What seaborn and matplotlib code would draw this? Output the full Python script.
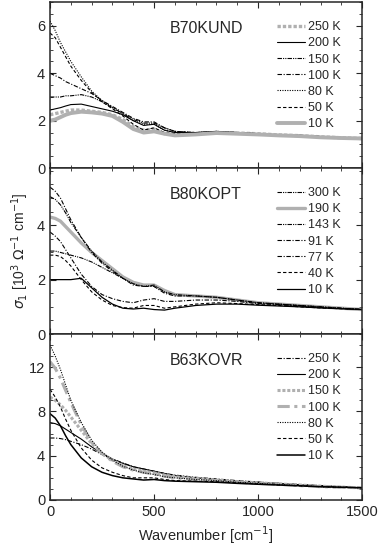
import matplotlib
matplotlib.use("Agg")
import matplotlib.pyplot as plt
from matplotlib.ticker import MultipleLocator, FixedLocator
import seaborn as sns

sns.set_style("ticks")
plt.rcParams['font.family'] = ['Liberation Sans', 'DejaVu Sans']

# wavenumber grid (cm^-1)
w = [0, 25, 50, 75, 100, 150, 200, 250, 300, 350, 400, 450, 500, 550, 600,
     700, 800, 900, 1000, 1100, 1200, 1300, 1400, 1500]

# B70KUND, sigma_1 in 10^3 Ohm^-1 cm^-1
und_labels = ['250 K', '200 K', '150 K', '100 K', '80 K', '50 K', '10 K']
und_250 = [2.25, 2.3, 2.35, 2.4, 2.45, 2.45, 2.4, 2.35, 2.25, 2.05, 1.75, 1.6, 1.65, 1.45, 1.4,
           1.45, 1.5, 1.48, 1.45, 1.4, 1.37, 1.32, 1.28, 1.25]
und_200 = [2.45, 2.5, 2.55, 2.62, 2.68, 2.7, 2.6, 2.5, 2.4, 2.25, 2.0, 1.8, 1.85, 1.6, 1.5,
           1.5, 1.55, 1.5, 1.45, 1.4, 1.38, 1.33, 1.28, 1.25]
und_150 = [3.0, 3.0, 3.0, 3.05, 3.05, 3.1, 3.0, 2.8, 2.55, 2.3, 2.05, 1.9, 1.9, 1.7, 1.55,
           1.5, 1.52, 1.5, 1.45, 1.4, 1.38, 1.33, 1.28, 1.25]
und_100 = [4.0, 3.9, 3.8, 3.65, 3.55, 3.35, 3.15, 2.85, 2.6, 2.35, 2.1, 1.95, 1.95, 1.7, 1.55,
           1.5, 1.52, 1.5, 1.45, 1.4, 1.38, 1.33, 1.28, 1.25]
und_80 = [6.2, 5.8, 5.3, 4.9, 4.5, 3.85, 3.25, 2.85, 2.55, 2.3, 2.0, 1.85, 1.85, 1.6, 1.5,
          1.5, 1.55, 1.5, 1.45, 1.4, 1.38, 1.33, 1.28, 1.25]
und_50 = [5.7, 5.5, 5.1, 4.7, 4.3, 3.7, 3.2, 2.8, 2.5, 2.2, 1.85, 1.6, 1.7, 1.5, 1.45,
          1.45, 1.5, 1.48, 1.45, 1.4, 1.38, 1.33, 1.28, 1.25]
und_10 = [2.0, 2.05, 2.15, 2.25, 2.32, 2.38, 2.35, 2.3, 2.2, 1.95, 1.65, 1.5, 1.55, 1.45, 1.38,
          1.42, 1.48, 1.45, 1.42, 1.38, 1.35, 1.3, 1.27, 1.25]

# B80KOPT
opt_labels = ['300 K', '190 K', '143 K', '91 K', '77 K', '40 K', '10 K']
opt_300 = [3.05, 3.05, 3.0, 2.95, 2.9, 2.8, 2.65, 2.45, 2.25, 2.05, 1.85, 1.8, 1.75, 1.55, 1.45,
           1.4, 1.35, 1.25, 1.15, 1.1, 1.05, 1.0, 0.95, 0.9]
opt_190 = [4.3, 4.25, 4.15, 3.95, 3.75, 3.35, 3.0, 2.7, 2.4, 2.1, 1.9, 1.8, 1.8, 1.6, 1.45,
           1.4, 1.35, 1.25, 1.15, 1.1, 1.05, 1.0, 0.95, 0.9]
opt_143 = [5.05, 4.95, 4.75, 4.45, 4.1, 3.55, 3.05, 2.65, 2.35, 2.05, 1.85, 1.75, 1.8, 1.55, 1.45,
           1.4, 1.35, 1.25, 1.15, 1.1, 1.05, 1.0, 0.95, 0.9]
opt_91 = [5.4, 5.25, 5.0, 4.6, 4.2, 3.55, 3.0, 2.6, 2.3, 2.05, 1.8, 1.75, 1.75, 1.5, 1.4,
          1.4, 1.35, 1.25, 1.15, 1.1, 1.05, 1.0, 0.95, 0.9]
opt_77 = [3.75, 3.6, 3.4, 3.1, 2.8, 2.2, 1.75, 1.45, 1.3, 1.2, 1.15, 1.25, 1.3, 1.2, 1.2,
          1.25, 1.25, 1.2, 1.12, 1.08, 1.03, 0.98, 0.94, 0.9]
opt_40 = [2.9, 2.9, 2.85, 2.7, 2.5, 2.0, 1.55, 1.25, 1.05, 0.97, 0.95, 1.05, 1.05, 0.95, 1.0,
          1.1, 1.15, 1.12, 1.08, 1.05, 1.0, 0.96, 0.93, 0.9]
opt_10 = [2.0, 2.0, 2.0, 2.0, 2.0, 2.05, 1.7, 1.35, 1.1, 0.95, 0.92, 0.95, 0.9, 0.88, 0.95,
          1.05, 1.1, 1.1, 1.06, 1.03, 1.0, 0.96, 0.93, 0.9]

# B63KOVR
ovr_labels = ['250 K', '200 K', '150 K', '100 K', '80 K', '50 K', '10 K']
ovr_250 = [5.6, 5.6, 5.55, 5.45, 5.3, 5.0, 4.6, 4.1, 3.7, 3.35, 3.0, 2.8, 2.6, 2.4, 2.25,
           2.05, 1.9, 1.75, 1.62, 1.5, 1.4, 1.3, 1.2, 1.1]
ovr_200 = [7.0, 6.9, 6.7, 6.4, 6.1, 5.5, 4.8, 4.2, 3.7, 3.3, 3.0, 2.8, 2.6, 2.4, 2.2,
           2.0, 1.85, 1.7, 1.6, 1.5, 1.38, 1.28, 1.18, 1.1]
ovr_150 = [9.3, 9.0, 8.6, 8.1, 7.5, 6.3, 5.1, 4.2, 3.6, 3.1, 2.8, 2.6, 2.45, 2.25, 2.1,
           1.95, 1.8, 1.65, 1.55, 1.45, 1.35, 1.25, 1.15, 1.1]
ovr_100 = [12.5, 11.9, 11.0, 9.9, 8.8, 6.8, 5.2, 4.2, 3.5, 3.0, 2.7, 2.5, 2.35, 2.15, 2.0,
           1.85, 1.75, 1.6, 1.5, 1.4, 1.3, 1.2, 1.15, 1.1]
ovr_80 = [14.0, 13.0, 11.8, 10.4, 9.0, 7.0, 5.4, 4.3, 3.6, 3.05, 2.7, 2.45, 2.3, 2.1, 2.0,
          1.85, 1.75, 1.6, 1.5, 1.4, 1.3, 1.2, 1.15, 1.1]
ovr_50 = [10.0, 9.3, 8.4, 7.3, 6.3, 4.7, 3.6, 2.9, 2.5, 2.2, 2.0, 2.0, 2.0, 1.85, 1.75,
          1.7, 1.65, 1.55, 1.45, 1.35, 1.28, 1.2, 1.15, 1.1]
ovr_10 = [7.8, 7.4, 6.7, 5.8, 5.0, 3.8, 3.0, 2.5, 2.2, 2.0, 1.9, 1.8, 1.85, 1.75, 1.7,
          1.65, 1.6, 1.5, 1.42, 1.35, 1.28, 1.2, 1.15, 1.1]

# line styles per legend row (color, width, dash)
gray = '#b0b0b0'
dd = (0, (4, 1, 1, 1, 1, 1))      # dash-dot-dot
dashdot = (0, (4, 1.5, 1, 1.5))
dotted = (0, (1, 1.2))
dashed = (0, (3, 2))

und_styles = [(gray, 2.4, (0, (1, 0.6))), ('k', 0.8, '-'), ('k', 0.8, dd), ('k', 0.8, dashdot),
              ('k', 0.8, dotted), ('k', 0.8, dashed), (gray, 2.8, '-')]
opt_styles = [('k', 0.8, dd), (gray, 2.4, '-'), ('k', 0.8, dd), ('k', 0.8, dashdot),
              ('k', 0.8, dashdot), ('k', 0.8, dashed), ('k', 0.9, '-')]
ovr_styles = [('k', 0.8, dashdot), ('k', 0.8, '-'), (gray, 2.2, (0, (1, 0.6))),
              (gray, 2.2, dashdot), ('k', 0.8, dotted), ('k', 0.8, dashed), ('k', 1.1, '-')]

panels = [
    ('B70KUND', und_labels, [und_250, und_200, und_150, und_100, und_80, und_50, und_10],
     und_styles, 7.0, [0, 2, 4, 6], 0.5),
    ('B80KOPT', opt_labels, [opt_300, opt_190, opt_143, opt_91, opt_77, opt_40, opt_10],
     opt_styles, 6.1, [0, 2, 4], 0.5),
    ('B63KOVR', ovr_labels, [ovr_250, ovr_200, ovr_150, ovr_100, ovr_80, ovr_50, ovr_10],
     ovr_styles, 15.0, [0, 4, 8, 12], 1),
]

fig, axes = plt.subplots(3, 1, figsize=(3.82, 5.47), dpi=100, sharex=True)
fig.subplots_adjust(left=0.131, right=0.948, top=0.996, bottom=0.086, hspace=0)

for ax, (name, labels, series, styles, ytop, yticks, minor) in zip(axes, panels):
    for lab, ys, (c, lw, ls) in zip(labels, series, styles):
        sns.lineplot(x=w, y=ys, ax=ax, color=c, lw=lw, linestyle=ls, label=lab)
    ax.set_xlim(0, 1500)
    ax.set_ylim(0, ytop)
    ax.xaxis.set_major_locator(MultipleLocator(500))
    ax.xaxis.set_minor_locator(MultipleLocator(100))
    ax.yaxis.set_major_locator(FixedLocator(yticks))
    ax.yaxis.set_minor_locator(MultipleLocator(minor))
    ax.tick_params(which='both', direction='in', top=True, right=True, labelsize=10.5)
    ax.tick_params(which='major', length=4)
    ax.tick_params(which='minor', length=2)
    for sp in ax.spines.values():
        sp.set_linewidth(1.1)
    ax.text(0.5, 0.84, name, transform=ax.transAxes, ha='center', va='center', fontsize=11.5)
    ax.legend(loc='upper right', bbox_to_anchor=(0.955, 0.93), frameon=False, fontsize=9,
              handlelength=2.3, handletextpad=0.2, labelspacing=0.33, borderaxespad=0.2)
    ax.set_ylabel('')
    ax.set_xlabel('')

axes[1].set_ylabel(r'$\sigma_1$ [10$^3$ $\Omega^{-1}$ cm$^{-1}$]', fontsize=10)
axes[2].set_xlabel(r'Wavenumber [cm$^{-1}$]', fontsize=10.5)

fig.savefig('out.png', dpi=100)
